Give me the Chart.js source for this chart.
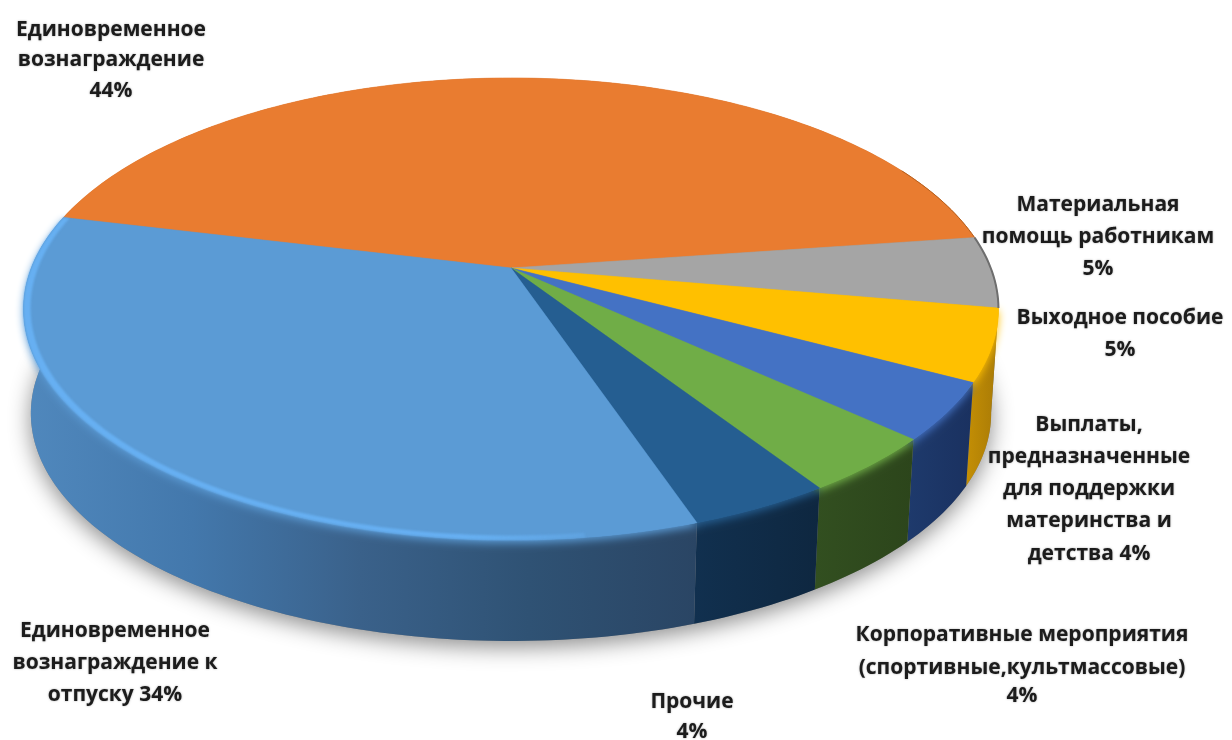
<!DOCTYPE html>
<html lang="ru">
<head>
<meta charset="utf-8">
<title>Структура выплат</title>
<script src="https://cdn.jsdelivr.net/npm/chart.js@4/dist/chart.umd.min.js"></script>
<style>
  html, body { margin: 0; padding: 0; background: #fff; }
  canvas { display: block; filter: blur(0.7px); }
</style>
</head>
<body>
<canvas id="pie" width="1232" height="740"></canvas>
<script>
const categories = [
  "Единовременное вознаграждение",
  "Материальная помощь работникам",
  "Выходное пособие",
  "Выплаты, предназначенные для поддержки материнства и детства",
  "Корпоративные мероприятия (спортивные,культмассовые)",
  "Прочие",
  "Единовременное вознаграждение к отпуску",
];
const values = [44, 5, 5, 4, 4, 4, 34];
const topColors = ["#E97C30", "#A5A5A5", "#FFC000", "#4472C4", "#70AD47", "#255E91", "#5B9BD5"];
const wallColors = [
  ["#b5601f", "#b5601f"],
  ["#6e6e6e", "#6e6e6e"],
  ["#c48f05", "#a87a06"],
  ["#1e3a6c", "#1a3160"],
  ["#324f20", "#2c451b"],
  ["#11304f", "#0e2740"],
  ["#5088bd", "#4378ac", "#3a618a", "#2f5274", "#2a4564"],
];
// one row per slice, {v} is the value of that slice
const labelLines = [
  ["Единовременное", "вознаграждение", "{v}%"],
  ["Материальная", "помощь работникам", "{v}%"],
  ["Выходное пособие", "{v}%"],
  ["Выплаты,", "предназначенные", "для поддержки", "материнства и", "детства {v}%"],
  ["Корпоративные мероприятия", "(спортивные,культмассовые)", "{v}%"],
  ["Прочие", "{v}%"],
  ["Единовременное", "вознаграждение к", "отпуску {v}%"],
];
const labelX = [111, 1098, 1120, 1089, 1022, 692, 115];
const labelY = [[30, 60, 91], [205, 237, 269], [318, 350], [425, 457, 489, 521, 554], [635, 668, 696], [702, 732], [631, 663, 695]];

// fake 3d: the flat pie is projected onto a tilted disc
const view = { sx: 1.79, sy: 0.835, persp: 0.1775, depth: 105, shrink: 0.985 };

function project(el, angle, r, low) {
  const X = Math.cos(angle) * r;
  const Z = -Math.sin(angle) * r;
  const s = 1 / (1 + view.persp * Z);
  const k = low ? view.shrink : 1;
  return {
    x: el.x + el.outerRadius * view.sx * X * s * k,
    y: el.y - el.outerRadius * view.sy * Z * s * k + (low ? view.depth : 0),
  };
}

function arcPoints(el, from, to, r, low) {
  const n = Math.max(2, Math.ceil((to - from) / 0.02));
  const pts = [];
  for (let i = 0; i <= n; i++) pts.push(project(el, from + (to - from) * i / n, r, low));
  return pts;
}

function tracePoly(ctx, pts, open) {
  ctx.beginPath();
  pts.forEach((p, i) => (i ? ctx.lineTo(p.x, p.y) : ctx.moveTo(p.x, p.y)));
  if (!open) ctx.closePath();
}

function wallGradient(ctx, pts, stops) {
  const xs = pts.map((p) => p.x);
  const g = ctx.createLinearGradient(Math.min(...xs), 0, Math.max(...xs), 0);
  stops.forEach((c, i) => g.addColorStop(stops.length > 1 ? i / (stops.length - 1) : 0, c));
  return g;
}

const pie3d = {
  id: "pie3d",
  beforeDatasetDraw(chart) {
    const ctx = chart.ctx;
    const arcs = chart.getDatasetMeta(0).data;
    const first = arcs[0];
    const lower = arcPoints(first, 0, Math.PI * 2, 1, true);

    // soft shadow under the disc
    ctx.save();
    ctx.shadowColor = "rgba(0,0,0,0.45)";
    ctx.shadowBlur = 22;
    ctx.shadowOffsetY = 6;
    ctx.fillStyle = "#888";
    tracePoly(ctx, lower);
    ctx.fill();
    ctx.restore();

    // walls
    arcs.forEach((el, i) => {
      const up = arcPoints(el, el.startAngle, el.endAngle, 1, false);
      const down = arcPoints(el, el.startAngle, el.endAngle, 1, true).reverse();
      const shape = up.concat(down);
      ctx.fillStyle = wallGradient(ctx, shape, wallColors[i]);
      tracePoly(ctx, shape);
      ctx.fill();
    });

    const topShape = (el) => [{ x: el.x, y: el.y }].concat(arcPoints(el, el.startAngle, el.endAngle, 1, false));

    // blurred rim where the top meets the wall
    arcs.forEach((el, i) => {
      if (i < 2) return;
      ctx.save();
      ctx.shadowColor = topColors[i];
      ctx.shadowBlur = 9;
      ctx.shadowOffsetY = 3;
      ctx.fillStyle = topColors[i];
      tracePoly(ctx, topShape(el));
      ctx.fill();
      ctx.restore();
    });

    // top faces
    arcs.forEach((el, i) => {
      ctx.fillStyle = topColors[i];
      ctx.strokeStyle = topColors[i];
      ctx.lineWidth = 0.6;
      tracePoly(ctx, topShape(el));
      ctx.fill();
      ctx.stroke();
    });

    // thin dark edge on the far right of the disc
    [arcs[0], arcs[1]].forEach((el, i) => {
      const from = i === 0 ? el.endAngle - 0.35 : el.startAngle;
      ctx.strokeStyle = wallColors[i][0];
      ctx.lineWidth = i === 0 ? 1 : 2;
      tracePoly(ctx, arcPoints(el, from, el.endAngle, 1, false), true);
      ctx.stroke();
    });

    // light band on the edge of the big blue slice
    const el = arcs[arcs.length - 1];
    const bandFrom = el.startAngle + 0.2;
    const outer = arcPoints(el, bandFrom, el.endAngle, 1, false);
    const inner = arcPoints(el, bandFrom, el.endAngle, 0.986, false).reverse();
    const band = ctx.createLinearGradient(20, 0, 660, 0);
    band.addColorStop(0, "rgba(104,178,245,0.9)");
    band.addColorStop(0.7, "rgba(104,178,245,0.9)");
    band.addColorStop(1, "rgba(104,178,245,0)");
    ctx.save();
    ctx.filter = "blur(1px)";
    ctx.fillStyle = band;
    tracePoly(ctx, outer.concat(inner));
    ctx.fill();
    ctx.restore();

    return false;
  },
  afterDraw(chart) {
    const ctx = chart.ctx;
    ctx.save();
    ctx.font = '700 21px "Open Sans"';
    ctx.fillStyle = "#1c1c1c";
    ctx.textAlign = "center";
    ctx.textBaseline = "middle";
    ctx.shadowColor = "rgba(0,0,0,0.35)";
    ctx.shadowBlur = 2;
    labelLines.forEach((lines, i) => {
      lines.forEach((line, j) => {
        ctx.fillText(line.replace("{v}", values[i]), labelX[i], labelY[i][j]);
      });
    });
    ctx.restore();
  },
};

new Chart(document.getElementById("pie"), {
  type: "pie",
  data: {
    labels: categories,
    datasets: [{ data: values, backgroundColor: topColors, borderWidth: 0 }],
  },
  options: {
    responsive: false,
    animation: false,
    rotation: -76.4,
    layout: { padding: { left: 0, top: 0, right: 210, bottom: 204 } },
    plugins: { legend: { display: false }, tooltip: { enabled: false } },
  },
  plugins: [pie3d],
});
</script>
</body>
</html>
